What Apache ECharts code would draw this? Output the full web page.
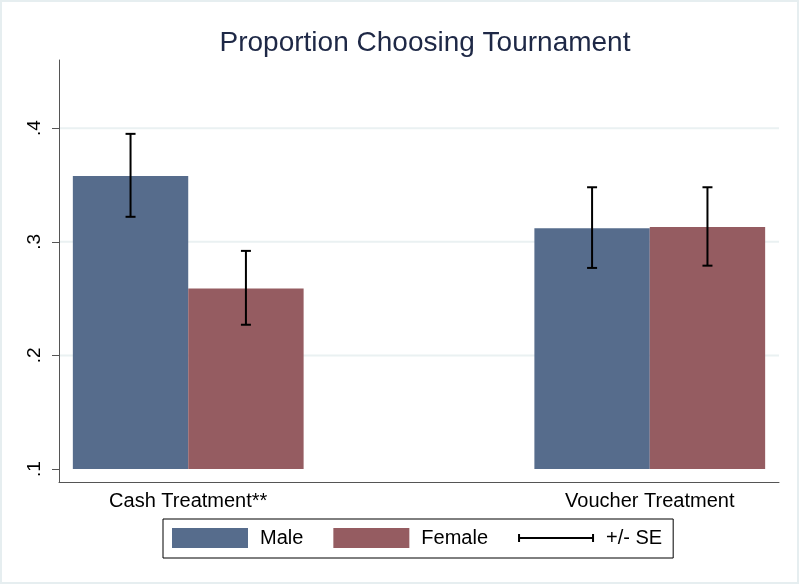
<!DOCTYPE html>
<html>
<head>
<meta charset="utf-8">
<script src="https://cdn.jsdelivr.net/npm/echarts@6/dist/echarts.min.js"></script>
<style>html,body{margin:0;padding:0;background:#fff;}#c{width:800px;height:585px;}</style>
</head>
<body>
<div id="c"></div>
<script>
const categories = ['Cash Treatment**', 'Voucher Treatment'];
const maleValues = [0.358, 0.312];
const femaleValues = [0.259, 0.313];
const maleLow = [0.322, 0.277];
const maleHigh = [0.395, 0.348];
const femaleLow = [0.227, 0.279];
const femaleHigh = [0.292, 0.348];
const yTickValues = [0.1, 0.2, 0.3, 0.4];
const yTickLabels = ['.1', '.2', '.3', '.4'];
const gridValues = [0.2, 0.3, 0.4];

const BASE = 0.1;
const HALF = 0.25;
const MALE_COLOR = '#566c8c';
const FEMALE_COLOR = '#955c61';
const FONT = 'Liberation Sans, Arial, sans-serif';

function barRender(offset, color) {
  return function (params, api) {
    const g = api.value(0), v = api.value(1);
    const p0 = api.coord([g + offset, BASE]);
    const p1 = api.coord([g + offset + HALF, v]);
    return {
      type: 'rect',
      shape: { x: p0[0], y: p1[1], width: p1[0] - p0[0], height: p0[1] - p1[1] },
      style: { fill: color }
    };
  };
}

const errData = [];
categories.forEach((c, i) => {
  errData.push([i - HALF / 2, maleLow[i], maleHigh[i]]);
  errData.push([i + HALF / 2, femaleLow[i], femaleHigh[i]]);
});

const chart = echarts.init(document.getElementById('c'), null, { renderer: 'canvas' });
chart.setOption({
  animation: false,
  backgroundColor: '#ffffff',
  textStyle: { fontFamily: FONT },
  title: {
    text: 'Proportion Choosing Tournament',
    left: 420, top: 24, textAlign: 'center',
    textStyle: { fontSize: 28, fontWeight: 'normal', color: '#1e2846', fontFamily: FONT }
  },
  graphic: [{
    type: 'rect', silent: true, z: -10,
    shape: { x: 1, y: 1, width: 797, height: 582 },
    style: { fill: 'none', stroke: '#e6eef0', lineWidth: 2 }
  }],
  grid: { left: 59, right: 21, top: 60, bottom: 103 },
  legend: {
    left: 163, top: 519,
    padding: [9, 11, 10, 9],
    borderColor: '#000', borderWidth: 1,
    itemWidth: 76, itemHeight: 20, itemGap: 30,
    selectedMode: false,
    textStyle: { fontSize: 20, color: '#000', padding: [0, 0, 0, 7], fontFamily: FONT },
    data: [
      { name: 'Male', icon: 'rect', itemStyle: { color: MALE_COLOR } },
      { name: 'Female', icon: 'rect', itemStyle: { color: FEMALE_COLOR } },
      { name: '+/- SE', icon: 'path://M0,0h2v8h-2z M0,3h76v2h-76z M74,0h2v8h-2z', itemStyle: { color: '#000' } }
    ]
  },
  xAxis: {
    type: 'value', min: -0.28, max: 1.28,
    splitLine: { show: false },
    axisLine: { show: true, onZero: false, lineStyle: { color: '#555', width: 1 } },
    axisTick: { show: false },
    axisLabel: {
      customValues: [0, 1],
      formatter: v => categories[Math.round(v)],
      fontSize: 20, color: '#000', margin: 9
    }
  },
  yAxis: {
    type: 'value', min: 0.0886, max: 0.46,
    splitLine: { show: false },
    axisLine: { show: true, onZero: false, lineStyle: { color: '#555', width: 1 } },
    axisTick: { show: true, customValues: yTickValues, length: 7, lineStyle: { color: '#555' } },
    axisLabel: {
      customValues: yTickValues,
      formatter: v => { const i = yTickValues.findIndex(t => Math.abs(t - v) < 1e-6); return i >= 0 ? yTickLabels[i] : ''; },
      rotate: 90, fontSize: 19, color: '#000', margin: 15
    }
  },
  series: [
    {
      name: 'grid', type: 'custom', silent: true, z: 0,
      data: gridValues.map(v => [v]),
      renderItem: (params, api) => {
        const v = api.value(0);
        const a = api.coord([-0.28, v]), b = api.coord([1.28, v]);
        return { type: 'line', shape: { x1: a[0] + 1, y1: a[1], x2: b[0], y2: b[1] }, style: { stroke: '#eaf1f2', lineWidth: 2 } };
      }
    },
    {
      name: 'Male', type: 'custom', z: 2,
      itemStyle: { color: MALE_COLOR },
      data: maleValues.map((v, i) => [i, v]),
      renderItem: barRender(-HALF, MALE_COLOR)
    },
    {
      name: 'Female', type: 'custom', z: 2,
      itemStyle: { color: FEMALE_COLOR },
      data: femaleValues.map((v, i) => [i, v]),
      renderItem: barRender(0, FEMALE_COLOR)
    },
    {
      name: '+/- SE', type: 'custom', z: 3,
      itemStyle: { color: '#000' },
      data: errData,
      renderItem: (params, api) => {
        const x = api.value(0);
        const lo = api.coord([x, api.value(1)]);
        const hi = api.coord([x, api.value(2)]);
        const cw = 5;
        const st = { stroke: '#000', lineWidth: 2 };
        return {
          type: 'group',
          children: [
            { type: 'line', shape: { x1: lo[0], y1: lo[1], x2: hi[0], y2: hi[1] }, style: st },
            { type: 'line', shape: { x1: hi[0] - cw, y1: hi[1], x2: hi[0] + cw, y2: hi[1] }, style: st },
            { type: 'line', shape: { x1: lo[0] - cw, y1: lo[1], x2: lo[0] + cw, y2: lo[1] }, style: st }
          ]
        };
      }
    }
  ]
});
</script>
</body>
</html>
